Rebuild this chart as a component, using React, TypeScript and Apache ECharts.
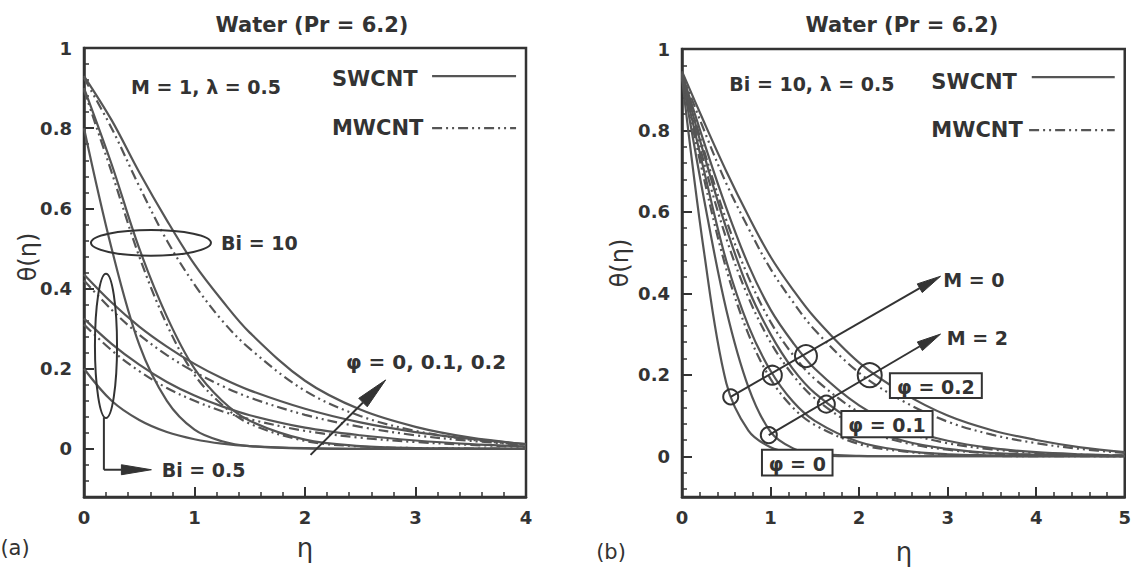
import React, { useEffect, useRef } from "react";
import * as echarts from "echarts";

// ---------------- data ----------------
// Panel (a): M = 1, lambda = 0.5 ; Bi = 10 and Bi = 0.5 ; phi = 0, 0.1, 0.2
const etaA = [0, 0.25, 0.5, 0.75, 1, 1.25, 1.5, 2, 2.5, 3, 3.5, 4];
const aBi10Phi0 = [0.8, 0.5, 0.26, 0.12, 0.048, 0.019, 0.007, 0.001, 0, 0, 0, 0];
const aBi10Phi1SW = [0.9, 0.71, 0.5, 0.33, 0.2, 0.12, 0.07, 0.023, 0.007, 0.002, 0.001, 0];
const aBi10Phi1MW = [0.895, 0.69, 0.48, 0.31, 0.185, 0.11, 0.063, 0.02, 0.006, 0.002, 0.001, 0];
const aBi10Phi2SW = [0.93, 0.82, 0.69, 0.57, 0.46, 0.37, 0.29, 0.17, 0.098, 0.055, 0.028, 0.012];
const aBi10Phi2MW = [0.925, 0.8, 0.655, 0.52, 0.41, 0.32, 0.25, 0.145, 0.082, 0.045, 0.023, 0.01];
const aBi05Phi0 = [0.2, 0.12, 0.072, 0.042, 0.024, 0.013, 0.007, 0.002, 0, 0, 0, 0];
const aBi05Phi1SW = [0.325, 0.262, 0.21, 0.167, 0.133, 0.106, 0.084, 0.053, 0.034, 0.021, 0.012, 0.006];
const aBi05Phi1MW = [0.31, 0.246, 0.194, 0.152, 0.12, 0.094, 0.074, 0.045, 0.028, 0.017, 0.01, 0.005];
const aBi05Phi2SW = [0.435, 0.365, 0.305, 0.255, 0.212, 0.176, 0.146, 0.1, 0.066, 0.042, 0.025, 0.012];
const aBi05Phi2MW = [0.42, 0.347, 0.285, 0.234, 0.192, 0.157, 0.128, 0.085, 0.055, 0.034, 0.02, 0.01];

// Panel (b): Bi = 10, lambda = 0.5 ; M = 0 and M = 2 ; phi = 0, 0.1, 0.2
const etaB = [0, 0.25, 0.5, 0.75, 1, 1.25, 1.5, 2, 2.5, 3, 3.5, 4, 4.5, 5];
const bM0Phi0 = [0.93, 0.5, 0.18, 0.063, 0.022, 0.008, 0.003, 0, 0, 0, 0, 0, 0, 0];
const bM2Phi0 = [0.935, 0.63, 0.36, 0.17, 0.06, 0.02, 0.007, 0.001, 0, 0, 0, 0, 0, 0];
const bM0Phi1SW = [0.935, 0.7, 0.48, 0.32, 0.21, 0.135, 0.087, 0.035, 0.014, 0.005, 0.002, 0, 0, 0];
const bM0Phi1MW = [0.93, 0.68, 0.46, 0.3, 0.19, 0.12, 0.077, 0.03, 0.012, 0.004, 0.001, 0, 0, 0];
const bM0Phi2SW = [0.94, 0.77, 0.61, 0.47, 0.36, 0.28, 0.215, 0.125, 0.07, 0.038, 0.02, 0.01, 0.005, 0.002];
const bM0Phi2MW = [0.935, 0.75, 0.58, 0.44, 0.33, 0.25, 0.19, 0.108, 0.06, 0.032, 0.017, 0.008, 0.004, 0.002];
const bM2Phi1SW = [0.94, 0.74, 0.56, 0.41, 0.3, 0.215, 0.155, 0.078, 0.038, 0.018, 0.008, 0.004, 0.002, 0];
const bM2Phi1MW = [0.935, 0.72, 0.535, 0.39, 0.28, 0.2, 0.142, 0.07, 0.034, 0.016, 0.007, 0.003, 0.001, 0];
const bM2Phi2SW = [0.945, 0.82, 0.7, 0.59, 0.49, 0.41, 0.34, 0.23, 0.155, 0.1, 0.064, 0.04, 0.022, 0.01];
const bM2Phi2MW = [0.94, 0.8, 0.67, 0.56, 0.46, 0.38, 0.31, 0.205, 0.135, 0.085, 0.053, 0.032, 0.018, 0.008];

const xMaxA = 4;
const xMaxB = 5;
const yMinA = -0.12;
const yMinB = -0.1;

// ---------------- styles ----------------
const FONT = '"DejaVu Sans", "Liberation Sans", sans-serif';
const INK = "#333333";
const CURVE = "#555555";
const DASH = [10, 4, 2, 4, 2, 4];

type Kind = "sw" | "mw";
const curvesA: { name: string; vals: number[]; kind: Kind }[] = [
  { name: "Bi=10, φ=0", vals: aBi10Phi0, kind: "sw" },
  { name: "Bi=10, φ=0.1 SWCNT", vals: aBi10Phi1SW, kind: "sw" },
  { name: "Bi=10, φ=0.1 MWCNT", vals: aBi10Phi1MW, kind: "mw" },
  { name: "Bi=10, φ=0.2 SWCNT", vals: aBi10Phi2SW, kind: "sw" },
  { name: "Bi=10, φ=0.2 MWCNT", vals: aBi10Phi2MW, kind: "mw" },
  { name: "Bi=0.5, φ=0", vals: aBi05Phi0, kind: "sw" },
  { name: "Bi=0.5, φ=0.1 SWCNT", vals: aBi05Phi1SW, kind: "sw" },
  { name: "Bi=0.5, φ=0.1 MWCNT", vals: aBi05Phi1MW, kind: "mw" },
  { name: "Bi=0.5, φ=0.2 SWCNT", vals: aBi05Phi2SW, kind: "sw" },
  { name: "Bi=0.5, φ=0.2 MWCNT", vals: aBi05Phi2MW, kind: "mw" },
];
const curvesB: { name: string; vals: number[]; kind: Kind }[] = [
  { name: "M=0, φ=0", vals: bM0Phi0, kind: "sw" },
  { name: "M=2, φ=0", vals: bM2Phi0, kind: "sw" },
  { name: "M=0, φ=0.1 SWCNT", vals: bM0Phi1SW, kind: "sw" },
  { name: "M=0, φ=0.1 MWCNT", vals: bM0Phi1MW, kind: "mw" },
  { name: "M=0, φ=0.2 SWCNT", vals: bM0Phi2SW, kind: "sw" },
  { name: "M=0, φ=0.2 MWCNT", vals: bM0Phi2MW, kind: "mw" },
  { name: "M=2, φ=0.1 SWCNT", vals: bM2Phi1SW, kind: "sw" },
  { name: "M=2, φ=0.1 MWCNT", vals: bM2Phi1MW, kind: "mw" },
  { name: "M=2, φ=0.2 SWCNT", vals: bM2Phi2SW, kind: "sw" },
  { name: "M=2, φ=0.2 MWCNT", vals: bM2Phi2MW, kind: "mw" },
];

function xAxisDef(grid: number, max: number) {
  return {
    type: "value",
    gridIndex: grid,
    min: 0,
    max,
    interval: 1,
    axisLine: { show: true, onZero: false, lineStyle: { color: INK, width: 2.5 } },
    axisTick: { show: true, inside: true, length: 10, lineStyle: { color: INK, width: 2 } },
    minorTick: { show: true, splitNumber: 5, length: 5, lineStyle: { color: INK, width: 1.5 } },
    axisLabel: { color: INK, fontFamily: FONT, fontWeight: "bold", fontSize: 18, margin: 11 },
    splitLine: { show: false },
  };
}
function yAxisDef(grid: number, min: number) {
  return {
    type: "value",
    gridIndex: grid,
    min,
    max: 1,
    axisLine: { show: true, onZero: false, lineStyle: { color: INK, width: 2.5 } },
    axisTick: { show: true, inside: true, length: 10, lineStyle: { color: INK, width: 2 } },
    minorTick: { show: true, splitNumber: 5, length: 5, lineStyle: { color: INK, width: 1.5 } },
    axisLabel: {
      color: INK,
      fontFamily: FONT,
      fontWeight: "bold",
      fontSize: 18,
      margin: 12,
      formatter: (v: number) => (v < -1e-9 ? "" : String(Math.round(v * 10) / 10)),
    },
    splitLine: { show: false },
  };
}

function buildSeries(list: { name: string; vals: number[]; kind: Kind }[], eta: number[], idx: number) {
  return list.map((c) => ({
    type: "line",
    name: c.name,
    xAxisIndex: idx,
    yAxisIndex: idx,
    data: eta.map((e, i) => [e, c.vals[i]]),
    showSymbol: false,
    symbol: "none",
    smooth: 0.35,
    silent: true,
    lineStyle: { color: CURVE, width: 2.2, type: c.kind === "sw" ? "solid" : DASH },
  }));
}

function text(x: number, y: number, s: string, size: number, align = "left", weight = "bold", rot = 0) {
  return {
    type: "text",
    x,
    y,
    rotation: rot,
    z: 30,
    silent: true,
    style: {
      text: s,
      fill: INK,
      font: `${weight} ${size}px ${FONT}`,
      align,
      verticalAlign: "middle",
      textAlign: align,
      textVerticalAlign: "middle",
    },
  };
}

function arrow(p0: number[], p1: number[], headLen: number, headHalf: number, width = 2) {
  const dx = p1[0] - p0[0];
  const dy = p1[1] - p0[1];
  const L = Math.hypot(dx, dy);
  const ux = dx / L;
  const uy = dy / L;
  const bx = p1[0] - ux * headLen;
  const by = p1[1] - uy * headLen;
  return [
    { type: "line", z: 25, silent: true, shape: { x1: p0[0], y1: p0[1], x2: bx, y2: by }, style: { stroke: INK, lineWidth: width } },
    {
      type: "polygon",
      z: 25,
      silent: true,
      shape: { points: [p1, [bx - uy * headHalf, by + ux * headHalf], [bx + uy * headHalf, by - ux * headHalf]] },
      style: { fill: INK, stroke: INK, lineWidth: 1 },
    },
  ];
}

export default function App() {
  const ref = useRef<HTMLDivElement>(null);
  useEffect(() => {
    const chart = echarts.init(ref.current!, null, { renderer: "svg" });
    chart.setOption({
      animation: false,
      backgroundColor: "#ffffff",
      grid: [
        { left: 84, top: 48, width: 442, height: 449, show: true, borderColor: INK, borderWidth: 2.5, backgroundColor: "transparent" },
        { left: 682, top: 49, width: 443, height: 448, show: true, borderColor: INK, borderWidth: 2.5, backgroundColor: "transparent" },
      ],
      xAxis: [xAxisDef(0, xMaxA), xAxisDef(1, xMaxB)],
      yAxis: [yAxisDef(0, yMinA), yAxisDef(1, yMinB)],
      series: [...buildSeries(curvesA, etaA, 0), ...buildSeries(curvesB, etaB, 1)],
    });

    const pa = (x: number, y: number) => chart.convertToPixel({ gridIndex: 0 }, [x, y]) as number[];
    const pb = (x: number, y: number) => chart.convertToPixel({ gridIndex: 1 }, [x, y]) as number[];
    const sxA = pa(1, 0)[0] - pa(0, 0)[0];
    const syA = pa(0, 0)[1] - pa(0, 1)[1];

    const g: any[] = [];
    // titles, axis names, panel labels
    g.push(text(312, 25, "Water (Pr = 6.2)", 21, "center"));
    g.push(text(902, 25, "Water (Pr = 6.2)", 21, "center"));
    g.push(text(28, 257, "θ(η)", 24, "center", "normal", Math.PI / 2));
    g.push(text(620, 263, "θ(η)", 24, "center", "normal", Math.PI / 2));
    g.push(text(305, 548, "η", 26, "center", "normal"));
    g.push(text(904, 552, "η", 26, "center", "normal"));
    g.push(text(15, 548, "(a)", 21, "center", "normal"));
    g.push(text(611, 552, "(b)", 21, "center", "normal"));

    // ---- panel (a) annotations ----
    let p = pa(1.104, 0.903);
    g.push(text(p[0], p[1], "M = 1, λ = 0.5", 19, "center"));
    p = pa(2.244, 0.923);
    g.push(text(p[0], p[1], "SWCNT", 21));
    let l0 = pa(3.15, 0.93), l1 = pa(3.91, 0.93);
    g.push({ type: "line", z: 25, shape: { x1: l0[0], y1: l0[1], x2: l1[0], y2: l1[1] }, style: { stroke: CURVE, lineWidth: 2.2 } });
    p = pa(2.244, 0.8);
    g.push(text(p[0], p[1], "MWCNT", 21));
    l0 = pa(3.15, 0.8); l1 = pa(3.91, 0.8);
    g.push({ type: "line", z: 25, shape: { x1: l0[0], y1: l0[1], x2: l1[0], y2: l1[1] }, style: { stroke: CURVE, lineWidth: 2.2, lineDash: DASH } });

    p = pa(0.606, 0.514);
    g.push({ type: "ellipse", z: 25, shape: { cx: p[0], cy: p[1], rx: 0.543 * sxA, ry: 0.032 * syA }, style: { fill: "none", stroke: INK, lineWidth: 2 } });
    p = pa(1.24, 0.513);
    g.push(text(p[0], p[1], "Bi = 10", 19));

    p = pa(0.199, 0.257);
    g.push({ type: "ellipse", z: 25, shape: { cx: p[0], cy: p[1], rx: 0.1 * sxA, ry: 0.18 * syA }, style: { fill: "none", stroke: INK, lineWidth: 2 } });
    const c0 = pa(0.18, 0.079), c1 = pa(0.18, -0.052), c2 = pa(0.61, -0.052);
    g.push({ type: "polyline", z: 25, shape: { points: [c0, c1] }, style: { stroke: INK, lineWidth: 2, fill: "none" } });
    g.push(...arrow(c1, c2, 30, 5));
    p = pa(0.703, -0.052);
    g.push(text(p[0], p[1], "Bi = 0.5", 19));

    g.push(...arrow(pa(2.05, -0.015), pa(2.73, 0.172), 32, 6));
    p = pa(2.37, 0.217);
    g.push(text(p[0], p[1], "φ = 0, 0.1, 0.2", 20));

    // ---- panel (b) annotations ----
    p = pb(1.467, 0.914);
    g.push(text(p[0], p[1], "Bi = 10, λ = 0.5", 19, "center"));
    p = pb(2.816, 0.919);
    g.push(text(p[0], p[1], "SWCNT", 21));
    l0 = pb(3.95, 0.931); l1 = pb(4.887, 0.931);
    g.push({ type: "line", z: 25, shape: { x1: l0[0], y1: l0[1], x2: l1[0], y2: l1[1] }, style: { stroke: CURVE, lineWidth: 2.2 } });
    p = pb(2.816, 0.801);
    g.push(text(p[0], p[1], "MWCNT", 21));
    l0 = pb(3.92, 0.801); l1 = pb(4.887, 0.801);
    g.push({ type: "line", z: 25, shape: { x1: l0[0], y1: l0[1], x2: l1[0], y2: l1[1] }, style: { stroke: CURVE, lineWidth: 2.2, lineDash: DASH } });

    const circles: [number, number, number][] = [
      [0.55, 0.146, 7.5],
      [1.02, 0.199, 9.5],
      [1.4, 0.246, 11],
      [0.98, 0.052, 8],
      [1.63, 0.128, 8.5],
      [2.12, 0.199, 12],
    ];
    circles.forEach(([x, y, r]) => {
      const q = pb(x, y);
      g.push({ type: "circle", z: 26, shape: { cx: q[0], cy: q[1], r }, style: { fill: "none", stroke: INK, lineWidth: 2 } });
    });
    g.push(...arrow(pb(0.55, 0.146), pb(2.92, 0.442), 24, 5));
    g.push(...arrow(pb(0.98, 0.052), pb(2.92, 0.3), 24, 5));
    p = pb(2.95, 0.432);
    g.push(text(p[0], p[1], "M = 0", 19));
    p = pb(2.99, 0.29);
    g.push(text(p[0], p[1], "M = 2", 19));

    const boxes: [number, number, number, number, string][] = [
      [2.348, 3.386, 0.204, 0.143, "φ = 0.2"],
      [1.8, 2.83, 0.111, 0.047, "φ = 0.1"],
      [0.903, 1.7, 0.016, -0.047, "φ = 0"],
    ];
    boxes.forEach(([x0, x1, y0, y1, s]) => {
      const a = pb(x0, y0), b = pb(x1, y1);
      g.push({ type: "rect", z: 27, shape: { x: a[0], y: a[1], width: b[0] - a[0], height: b[1] - a[1] }, style: { fill: "#ffffff", stroke: INK, lineWidth: 2 } });
      g.push(text((a[0] + b[0]) / 2, (a[1] + b[1]) / 2 + 1, s, 19, "center"));
    });

    chart.setOption({ graphic: g });
    return () => chart.dispose();
  }, []);
  return <div ref={ref} style={{ position: "absolute", left: 0, top: 0, width: 1134, height: 573 }} />;
}
